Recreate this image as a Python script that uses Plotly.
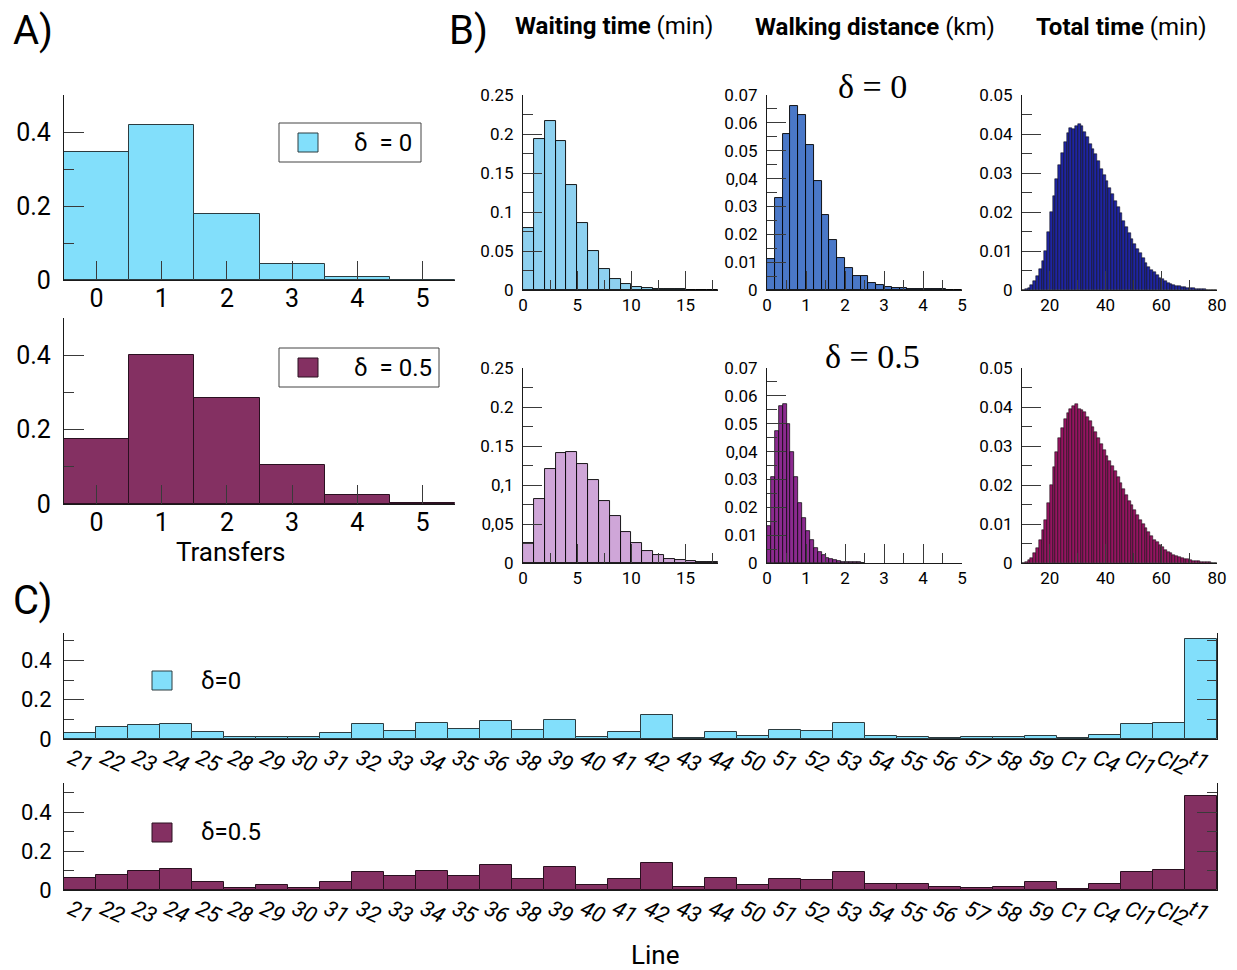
import plotly.graph_objects as go

# the page body adds an 8 px margin, so the figure is drawn 8 px smaller
PAD = 8
W, H = 1237 - PAD, 970 - PAD
FONT = "Roboto, Liberation Sans, sans-serif"
SERIF = "Liberation Serif, DejaVu Serif, serif"

# A) number of transfers
TRANSFERS = [0, 1, 2, 3, 4, 5]
TRANSFERS_D0 = [0.347, 0.419, 0.179, 0.044, 0.007, 0.001]
TRANSFERS_D05 = [0.175, 0.400, 0.286, 0.104, 0.025, 0.003]

# B) waiting time (min), 1 min bins
WAIT_BINS = list(range(18))
WAIT_D0 = [0.079, 0.193, 0.217, 0.191, 0.135, 0.086, 0.050, 0.027, 0.014, 0.0077,
           0.004, 0.0026, 0.0017, 0.001, 0.0007, 0.0005, 0.0003, 0.0002]
WAIT_D05 = [0.026, 0.0815, 0.121, 0.141, 0.1425, 0.127, 0.106, 0.080, 0.060, 0.040,
            0.026, 0.016, 0.010, 0.0055, 0.0035, 0.002, 0.0013, 0.0008]

# B) walking distance (km)
WALK_BINS_D0 = [0.0, 0.2, 0.4, 0.6, 0.8, 1.0, 1.2, 1.4, 1.6, 1.8, 2.0, 2.2, 2.4,
                2.6, 2.8, 3.0, 3.2, 3.4, 3.6, 3.8, 4.0, 4.2, 4.4, 4.6, 4.8]
WALK_D0 = [0.011, 0.033, 0.056, 0.066, 0.063, 0.052, 0.039, 0.027, 0.018, 0.0116,
           0.0079, 0.0052, 0.0049, 0.0024, 0.0017, 0.0012, 0.0008, 0.0006, 0.0005,
           0.0003, 0.0003, 0.0002, 0.0002, 0.0001, 0.0001]
WALK_BINS_D05 = [0.0, 0.1, 0.2, 0.3, 0.4, 0.5, 0.6, 0.7, 0.8, 0.9, 1.0, 1.1, 1.2,
                 1.3, 1.4, 1.5, 1.6, 1.7, 1.8, 1.9, 2.0, 2.1, 2.2, 2.3, 2.4]
WALK_D05 = [0.0133, 0.031, 0.0475, 0.0564, 0.057, 0.050, 0.040, 0.031, 0.0216, 0.016,
            0.0115, 0.0082, 0.0053, 0.004, 0.0028, 0.0019, 0.0013, 0.001, 0.0007,
            0.0005, 0.0004, 0.0003, 0.0002, 0.0002, 0.0001]

# B) total time (min), 1 min bins from 10 to 80
TOTAL_BINS = list(range(10, 80))
TOTAL_D0 = [0.0001, 0.0003, 0.0006, 0.0012, 0.0022, 0.0035, 0.0055, 0.0075, 0.0100, 0.0150,
            0.0200, 0.0240, 0.0285, 0.0320, 0.0352, 0.0380, 0.0402, 0.0415, 0.0412, 0.0420,
            0.0425, 0.0420, 0.0405, 0.0392, 0.0375, 0.0362, 0.0350, 0.0330, 0.0310, 0.0295,
            0.0280, 0.0262, 0.0245, 0.0228, 0.0212, 0.0198, 0.0178, 0.0162, 0.0145, 0.0130,
            0.0118, 0.0105, 0.0095, 0.0082, 0.0070, 0.0060, 0.0052, 0.0045, 0.0038, 0.0032,
            0.0027, 0.0023, 0.0019, 0.0016, 0.0013, 0.0011, 0.0009, 0.0008, 0.0007, 0.0006,
            0.0005, 0.0004, 0.0003, 0.0003, 0.0002, 0.0002, 0.0001, 0.0001, 0.0001, 0.0001]
TOTAL_D05 = [0.0001, 0.0003, 0.0007, 0.0014, 0.0025, 0.0038, 0.0058, 0.0085, 0.0110, 0.0155,
             0.0200, 0.0245, 0.0285, 0.0320, 0.0345, 0.0368, 0.0385, 0.0395, 0.0402, 0.0408,
             0.0395, 0.0393, 0.0388, 0.0375, 0.0365, 0.0350, 0.0335, 0.0320, 0.0305, 0.0290,
             0.0275, 0.0262, 0.0248, 0.0235, 0.0220, 0.0205, 0.0190, 0.0175, 0.0160, 0.0148,
             0.0135, 0.0122, 0.0110, 0.0100, 0.0090, 0.0080, 0.0070, 0.0060, 0.0053, 0.0046,
             0.0040, 0.0034, 0.0029, 0.0025, 0.0021, 0.0018, 0.0015, 0.0013, 0.0011, 0.0009,
             0.0008, 0.0006, 0.0005, 0.0004, 0.0003, 0.0003, 0.0002, 0.0002, 0.0001, 0.0001]

# C) usage per line
LINES = ["21", "22", "23", "24", "25", "28", "29", "30", "31", "32", "33", "34",
         "35", "36", "38", "39", "40", "41", "42", "43", "44", "50", "51", "52",
         "53", "54", "55", "56", "57", "58", "59", "C1", "C4", "Cl1", "Cl2", "t1"]
LINE_D0 = [0.029, 0.059, 0.069, 0.075, 0.036, 0.008, 0.008, 0.012, 0.029, 0.075,
           0.039, 0.080, 0.049, 0.093, 0.044, 0.097, 0.012, 0.037, 0.120, 0.007,
           0.036, 0.014, 0.044, 0.039, 0.080, 0.014, 0.010, 0.003, 0.008, 0.008,
           0.014, 0.003, 0.022, 0.075, 0.083, 0.508]
LINE_D05 = [0.061, 0.077, 0.100, 0.109, 0.043, 0.012, 0.024, 0.012, 0.043, 0.090,
            0.070, 0.099, 0.073, 0.126, 0.058, 0.116, 0.024, 0.054, 0.141, 0.017,
            0.060, 0.024, 0.056, 0.049, 0.094, 0.031, 0.029, 0.014, 0.012, 0.014,
            0.039, 0.005, 0.029, 0.095, 0.104, 0.485]

WAIT_TICKS_D0 = ["0", "0.05", "0.1", "0.15", "0.2", "0.25"]
WAIT_TICKS_D05 = ["0", "0,05", "0,1", "0.15", "0.2", "0.25"]
WALK_TICKS = ["0", "0.01", "0.02", "0.03", "0,04", "0.05", "0.06", "0.07"]
TOTAL_TICKS = ["0", "0.01", "0.02", "0.03", "0.04", "0.05"]

CYAN = "#82dffb"
PLUM = "#843062"
WAIT0 = "#8ed1f0"
WAIT5 = "#cfa6d8"
WALK0 = "#4a78c8"
WALK5 = "#8b2a8f"
TOT0 = "#1f25a0"
TOT5 = "#941560"


def fx(p):
    return (p - PAD) / W


def fy(p):
    return 1 - (p - PAD) / H


def px_x(a, b):
    return [fx(a), fx(b)]


def px_y(top, bottom):
    return [fy(bottom), fy(top)]


def axis(size, **kw):
    ax = dict(
        showline=True, linecolor="#1a1a1a", linewidth=1.2,
        ticks="inside", tickcolor="#3a3a3a", tickwidth=1.2,
        showgrid=False, zeroline=False, fixedrange=True, automargin=False,
        tickfont=dict(family=FONT, size=size, color="black"),
    )
    ax.update(kw)
    return ax


def minor(**kw):
    m = dict(ticks="inside", ticklen=10, tickcolor="#3a3a3a", tickwidth=1.2)
    m.update(kw)
    return m


fig = go.Figure()

# A
fig.add_trace(go.Bar(x=TRANSFERS, y=TRANSFERS_D0, marker=dict(color=CYAN, line=dict(color="#2c3c40", width=1)),
                     xaxis="x", yaxis="y"))
fig.add_trace(go.Bar(x=TRANSFERS, y=TRANSFERS_D05, marker=dict(color=PLUM, line=dict(color="#2a1020", width=1)),
                     xaxis="x2", yaxis="y2"))

# B
hist_specs = [
    (WAIT_BINS, WAIT_D0, 1, WAIT0, 0.9, "x3", "y3"),
    (WALK_BINS_D0, WALK_D0, 0.2, WALK0, 0.9, "x4", "y4"),
    (TOTAL_BINS, TOTAL_D0, 1, TOT0, 0.5, "x5", "y5"),
    (WAIT_BINS, WAIT_D05, 1, WAIT5, 0.9, "x6", "y6"),
    (WALK_BINS_D05, WALK_D05, 0.1, WALK5, 0.7, "x7", "y7"),
    (TOTAL_BINS, TOTAL_D05, 1, TOT5, 0.5, "x8", "y8"),
]
for bins, vals, width, color, lw, xa, ya in hist_specs:
    fig.add_trace(go.Bar(x=bins, y=vals, width=width, offset=0,
                         marker=dict(color=color, line=dict(color="black", width=lw)),
                         xaxis=xa, yaxis=ya))

# C
fig.add_trace(go.Bar(x=LINES, y=LINE_D0, marker=dict(color=CYAN, line=dict(color="#2c3c40", width=1)),
                     xaxis="x9", yaxis="y9"))
fig.add_trace(go.Bar(x=LINES, y=LINE_D05, marker=dict(color=PLUM, line=dict(color="#2a1020", width=1)),
                     xaxis="x10", yaxis="y10"))

layout = dict(
    width=W, height=H, margin=dict(l=0, r=0, t=0, b=0, pad=0, autoexpand=False),
    paper_bgcolor="white", plot_bgcolor="white",
    showlegend=False, bargap=0,
)

# A axes
for i, (top, bot) in enumerate([(95, 280), (318, 504)]):
    xs = "xaxis" if i == 0 else "xaxis2"
    ys = "yaxis" if i == 0 else "yaxis2"
    layout[xs] = axis(25, domain=px_x(64, 455), range=[-0.5, 5.5], tickvals=TRANSFERS,
                      ticklen=19, anchor="y" if i == 0 else "y2", ticklabelstandoff=-4)
    layout[ys] = axis(25, domain=px_y(top, bot), range=[0, 0.5], tickvals=[0, 0.2, 0.4],
                      ticktext=["0", "0.2", "0.4"], ticklen=20, anchor="x" if i == 0 else "x2",
                      minor=minor(tickvals=[0.1, 0.3]), ticklabelstandoff=7)

# B axes
b_cols = [(523, 718), (767, 962), (1022, 1217)]
b_rows = [(95, 290), (368, 563)]
b_x = [
    dict(range=[0, 18], tickvals=[0, 5, 10, 15], minor=minor(tick0=0, dtick=2.5)),
    dict(range=[0, 5], tickvals=[0, 1, 2, 3, 4, 5], minor=minor(tick0=0, dtick=0.5)),
    dict(range=[10, 80], tickvals=[20, 40, 60, 80], minor=minor(tick0=0, dtick=10)),
]
b_y = [
    (0.25, [0, 0.05, 0.1, 0.15, 0.2, 0.25], 0.025),
    (0.07, [0, 0.01, 0.02, 0.03, 0.04, 0.05, 0.06, 0.07], 0.005),
    (0.05, [0, 0.01, 0.02, 0.03, 0.04, 0.05], 0.005),
]
b_text = [[WAIT_TICKS_D0, WALK_TICKS, TOTAL_TICKS], [WAIT_TICKS_D05, WALK_TICKS, TOTAL_TICKS]]
n = 3
for r, (top, bot) in enumerate(b_rows):
    for c, (left, right) in enumerate(b_cols):
        layout[f"xaxis{n}"] = axis(17, domain=px_x(left, right), ticklen=19, anchor=f"y{n}",
                                   ticklabelstandoff=-1, **b_x[c])
        ymax, tv, md = b_y[c]
        layout[f"yaxis{n}"] = axis(17, domain=px_y(top, bot), range=[0, ymax], tickvals=tv,
                                   ticktext=b_text[r][c], ticklen=19, anchor=f"x{n}",
                                   minor=minor(tick0=0, dtick=md), ticklabelstandoff=5)
        n += 1

# C axes
for k, (top, bot, ymax) in enumerate([(633, 739, 0.54), (783, 890, 0.55)]):
    i = 9 + k
    layout[f"xaxis{i}"] = axis(22, domain=px_x(64, 1217), type="category", range=[-0.5, 35.5],
                               ticks="", anchor=f"y{i}", tickangle=25, ticklabelshift=-9,
                               ticklabelstandoff=-3, mirror=False)
    layout[f"xaxis{i}"]["tickfont"]["style"] = "italic"
    layout[f"yaxis{i}"] = axis(22, domain=px_y(top, bot), range=[0, ymax], tickvals=[0, 0.2, 0.4],
                               ticktext=["0", "0.2", "0.4"], ticklen=20, anchor=f"x{i}",
                               mirror="ticks", minor=minor(tickvals=[0.1, 0.3, 0.5]),
                               ticklabelstandoff=7)

fig.update_layout(**layout)


def note(x, y, text, size, family=FONT, xanchor="center"):
    fig.add_annotation(x=fx(x), y=fy(y), xref="paper", yref="paper", text=text,
                       showarrow=False, xanchor=xanchor, yanchor="middle",
                       font=dict(family=family, size=size, color="black"))


def rect(x0, y0, x1, y1, fill, line="#333333", width=1):
    fig.add_shape(type="rect", xref="paper", yref="paper",
                  x0=fx(x0), x1=fx(x1), y0=fy(y1), y1=fy(y0),
                  fillcolor=fill, line=dict(color=line, width=width))


# panel letters
note(11, 30, "A)", 40, xanchor="left")
note(447, 30, "B)", 40, xanchor="left")
note(11, 600, "C)", 40, xanchor="left")

# B headers
note(614, 26, "<b>Waiting time</b> (min)", 24)
note(875, 27, "<b>Walking distance</b> (km)", 24)
note(1121, 27, "<b>Total time</b> (min)", 24)
note(873, 86, "δ = 0", 34, family=SERIF)
note(873, 356, "δ = 0.5", 34, family=SERIF)

# axis titles
note(231, 552, "Transfers", 26)
note(655, 955, "Line", 26)

# A legends
rect(279, 123, 421, 162, "white", line="#444444")
rect(298, 133, 318, 152, CYAN, line="#2c3c40")
note(352, 143, "δ  = 0", 24, xanchor="left")
rect(279, 348, 439, 387, "white", line="#444444")
rect(298, 358, 318, 377, PLUM, line="#2a1020")
note(352, 368, "δ  = 0.5", 24, xanchor="left")

# C legends
rect(152, 671, 172, 690, CYAN, line="#2c3c40")
note(199, 681, "δ=0", 24, xanchor="left")
rect(152, 823, 172, 842, PLUM, line="#2a1020")
note(199, 832, "δ=0.5", 24, xanchor="left")

fig.write_html("out.html")
